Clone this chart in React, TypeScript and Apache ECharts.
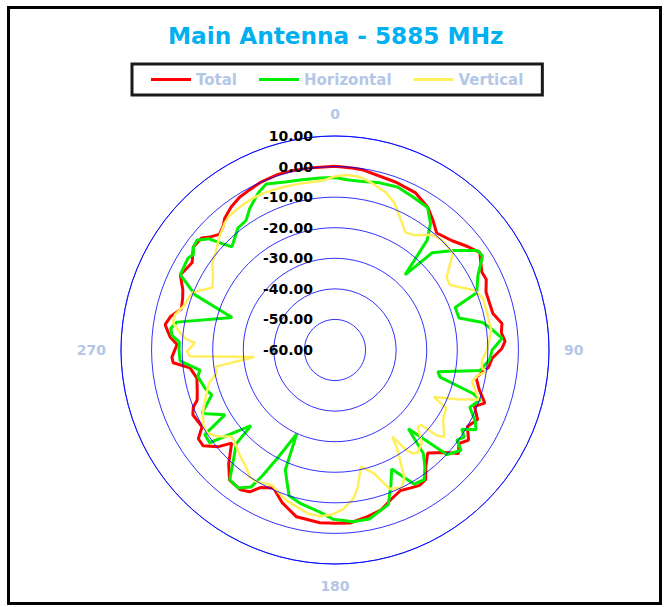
import React, { useEffect, useRef } from "react";
import * as echarts from "echarts";

const titleText = "Main Antenna - 5885 MHz";
const seriesNames = ["Total", "Horizontal", "Vertical"];
const seriesColors = ["#ff0000", "#00ee00", "#ffef5a"];
const radiusMin = -60;
const radiusMax = 10;
const radiusStep = 10;
const angleStep = 90;

const totalAngles = [0, 6, 9, 20, 27, 33, 37, 41, 47, 52, 56, 62, 65, 69, 77, 81, 84, 87, 89.5, 93, 96.5, 101, 105.5, 109.5, 112, 116, 120, 124, 127, 130, 133, 138, 142, 145, 148, 151.5, 155, 159.5, 164, 169, 175, 180, 185, 193, 199, 204, 208.5, 211, 214, 219, 223, 228, 230.5, 234, 237, 240, 245.5, 248, 250, 253.5, 258.5, 263, 265.5, 267.5, 272, 274.5, 278.5, 281.5, 285, 289, 291.5, 296, 298, 301.5, 306, 310, 312, 315, 318, 320, 324, 328, 332, 336, 342, 347, 353, 360];
const totalValues = [0.1, -0.2, -0.4, -1.6, -2.2, -4.3, -6.8, -9.3, -7.6, -5.0, -2.9, -5.6, -5.4, -7.1, -7.0, -4.7, -5.3, -4.3, -5.4, -8.5, -9.5, -13.0, -11.0, -8.0, -10.8, -8.1, -10.0, -7.3, -9.2, -7.3, -10.8, -14.7, -11.7, -8.3, -7.8, -8.6, -9.3, -7.8, -5.5, -4.5, -3.2, -3.3, -3.3, -4.0, -7.1, -10.6, -8.8, -5.9, -4.8, -5.2, -9.0, -14.5, -10.2, -6.7, -6.7, -9.8, -8.9, -10.0, -12.0, -13.0, -13.9, -12.2, -6.9, -6.6, -8.3, -5.9, -3.8, -5.1, -8.0, -7.3, -6.5, -3.7, -4.4, -5.2, -2.7, -3.0, -4.8, -6.5, -5.4, -3.8, -2.2, -1.1, -0.6, 0.0, 0.4, 0.3, 0.1, 0.1];

const horizontalAngles = [0, 4, 8.5, 15, 21, 27, 33, 37, 40, 43, 45, 50, 55, 57.5, 62.5, 68, 70.5, 75.5, 79.5, 83, 86, 90, 93.5, 98, 102, 104.5, 107.5, 109, 113, 117, 119.5, 122, 124, 126.5, 128.5, 131, 133, 137, 139.5, 142.5, 145.5, 149.5, 154.5, 157.5, 161, 164, 168.5, 174, 180.5, 185.5, 188, 192.5, 197.5, 202.5, 204.5, 208, 210, 211.5, 215, 219, 226.5, 228, 233.5, 237, 239.5, 244.5, 250, 253.5, 259, 261.5, 266, 270, 273, 275, 277.5, 280, 287.5, 291.5, 296, 302, 304, 306, 308.5, 311.5, 313, 315, 318, 321.5, 325.5, 329, 334, 337.5, 343.5, 349, 355, 360];
const horizontalValues = [-3.6, -4.2, -4.2, -3.4, -2.9, -3.8, -4.4, -8.1, -13.1, -26.4, -15.0, -9.4, -3.2, -2.8, -7.3, -10.0, -18.3, -18.1, -10.8, -7.8, -5.2, -8.6, -9.3, -12.1, -25.6, -24.5, -12.7, -9.8, -12.1, -8.5, -7.0, -11.1, -9.0, -10.4, -7.3, -8.8, -9.8, -24.8, -15.5, -11.7, -8.5, -9.1, -16.9, -12.2, -6.5, -5.5, -3.6, -3.5, -4.6, -6.8, -7.5, -8.5, -10.0, -17.5, -29.8, -20.0, -12.5, -7.4, -4.9, -5.3, -15.5, -23.0, -9.0, -9.2, -18.2, -11.8, -17.1, -15.7, -14.3, -15.3, -9.2, -9.0, -9.0, -6.5, -5.8, -7.5, -24.7, -10.8, -3.7, -3.3, -4.1, -2.8, -2.3, -5.1, -8.6, -12.3, -10.9, -9.0, -8.6, -5.9, -2.8, -1.2, -2.7, -3.3, -3.5, -3.6];

const verticalAngles = [0, 4, 8, 12, 18, 22, 31, 35, 40, 44, 50.5, 57, 60.5, 67, 71, 78, 82.5, 86, 90, 94, 97, 98, 100, 103, 107.5, 109, 112, 115.5, 117.5, 123, 128.5, 130, 131, 133, 137, 141.5, 143, 144.5, 146.5, 148, 151.5, 154, 158.5, 162.5, 167.5, 170.5, 173, 177, 181, 185, 189, 193, 198, 202, 205, 211, 214, 217.5, 222, 225.5, 230, 234, 237, 240, 244.5, 250, 255.5, 259, 262, 265, 267.5, 269.5, 273, 274, 275.5, 279.5, 282.5, 286, 292, 297, 301.5, 305.5, 309.5, 314, 319, 322, 326.5, 331.5, 336.5, 342.5, 349, 356, 360];
const verticalValues = [-3.2, -2.6, -2.8, -3.9, -5.9, -8.1, -15.2, -14.2, -10.8, -9.8, -10.0, -16.5, -16.8, -10.2, -8.7, -8.8, -8.5, -9.3, -10.3, -11.8, -11.6, -9.8, -12.5, -14.0, -11.3, -10.0, -16.9, -24.2, -19.0, -17.9, -14.3, -16.5, -22.6, -23.0, -18.3, -16.9, -17.7, -19.7, -26.0, -21.3, -12.5, -10.0, -11.2, -17.7, -20.9, -14.6, -11.0, -7.9, -6.2, -5.4, -5.7, -7.0, -8.3, -10.1, -11.2, -9.8, -10.0, -12.0, -13.5, -14.9, -16.0, -12.0, -10.2, -10.3, -12.1, -15.0, -17.5, -20.6, -20.4, -33.5, -12.5, -11.6, -14.1, -11.5, -9.7, -6.3, -6.4, -8.4, -9.7, -15.0, -13.2, -10.7, -9.5, -7.2, -5.0, -4.1, -3.8, -3.5, -3.7, -4.1, -4.4, -4.4, -3.2];

const FONT = "DejaVu Sans";
const RING = "rgba(0,0,255,0.8)";

function pairs(angles: number[], values: number[]) {
  return angles.map((a, i) => [values[i], a]);
}

export default function App() {
  const ref = useRef<HTMLDivElement>(null);
  useEffect(() => {
    document.body.style.margin = "0";
    const chart = echarts.init(ref.current!, null, { renderer: "svg" });
    const dataSets = [
      pairs(totalAngles, totalValues),
      pairs(horizontalAngles, horizontalValues),
      pairs(verticalAngles, verticalValues),
    ];
    chart.setOption({
      animation: false,
      backgroundColor: "#ffffff",
      title: {
        text: titleText,
        left: 163,
        top: 19,
        textStyle: { color: "#00b0f0", fontSize: 23.2, fontWeight: "bold", fontFamily: FONT },
      },
      legend: {
        data: seriesNames,
        top: 64,
        left: 132,
        icon: "rect",
        itemWidth: 40,
        itemHeight: 3,
        itemGap: 22,
        padding: [8, 19],
        borderColor: "#1a1a1a",
        borderWidth: 3,
        backgroundColor: "#ffffff",
        textStyle: { color: "#b4c7e7", fontSize: 15, fontWeight: "bold", fontFamily: FONT },
      },
      polar: { center: [335, 350], radius: 214 },
      angleAxis: {
        type: "value",
        min: 0,
        max: 360,
        interval: angleStep,
        startAngle: 90,
        clockwise: true,
        axisLine: { show: true, lineStyle: { color: RING, width: 1 } },
        axisTick: { show: false },
        splitLine: { show: false },
        axisLabel: {
          margin: 15,
          color: "#b4c7e7",
          fontSize: 14,
          fontWeight: "bold",
          fontFamily: FONT,
          formatter: (v: number) => (v >= 360 ? "" : String(v)),
        },
      },
      radiusAxis: {
        type: "value",
        min: radiusMin,
        max: radiusMax,
        interval: radiusStep,
        z: 10,
        axisLine: { show: false },
        axisTick: { show: false },
        splitLine: { show: true, lineStyle: { color: RING, width: 1 } },
        axisLabel: {
          margin: 22,
          color: "#000000",
          fontSize: 14,
          fontWeight: "bold",
          fontFamily: FONT,
          formatter: (v: number) => v.toFixed(2),
        },
      },
      graphic: [
        {
          type: "rect",
          shape: { x: 8.5, y: 7.5, width: 652, height: 596 },
          style: { fill: "none", stroke: "#000000", lineWidth: 3 },
          silent: true,
          z: 100,
        },
      ],
      series: seriesNames.map((name, i) => ({
        name,
        type: "line",
        coordinateSystem: "polar",
        data: dataSets[i],
        showSymbol: false,
        symbol: "none",
        color: seriesColors[i],
        lineStyle: { color: seriesColors[i], width: i === 2 ? 2.5 : 3 },
      })),
    });
    return () => chart.dispose();
  }, []);
  return <div ref={ref} style={{ width: 665, height: 607 }} />;
}
